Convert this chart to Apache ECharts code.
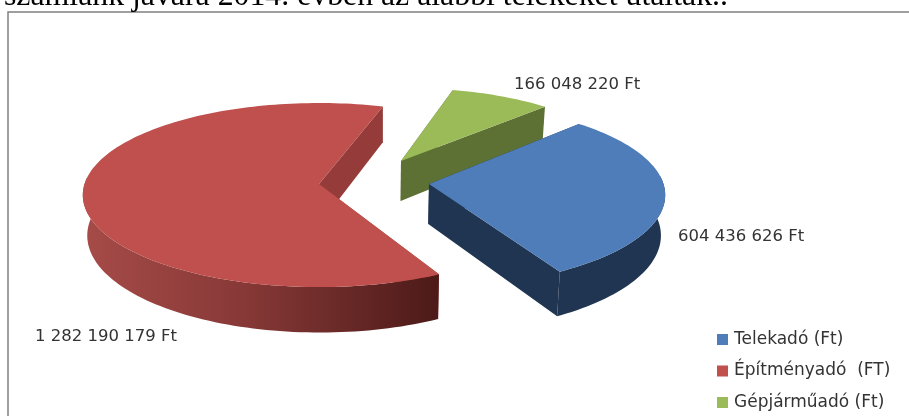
<!DOCTYPE html>
<html>
<head>
<meta charset="utf-8">
<style>
html, body { margin: 0; padding: 0; background: #fff; overflow: hidden; }
#main { width: 909px; height: 416px; }
</style>
<script src="https://cdn.jsdelivr.net/npm/echarts@6/dist/echarts.min.js"></script>
</head>
<body>
<div id="main"></div>
<script>
// adók, Ft
var categories = ['Telekadó (Ft)', 'Építményadó  (FT)', 'Gépjárműadó (Ft)'];
var values = [604436626, 1282190179, 166048220];
var colors = ['#4f7dba', '#bf504d', '#9bbb59'];
var sideColors = ['#1f3552', '#953c3a', '#5e7134'];

var total = values.reduce(function (a, b) { return a + b; }, 0);

// a "3D" kör vetítése
var rx = 234.5, ry = 90.7, persp = 0.12, depth = 40, shrink = 0.985, vanishX = 380;
var startAngle = 44;
// szeletenkénti eltolás (explode)
var slices = [
  { cx: 429, cy: 184, rot: 0, sx: 1, sy: 1, lx: 678, ly: 237 },
  { cx: 319, cy: 184, rot: 2.8, sx: 1, sy: 1, lx: 35, ly: 337 },
  { cx: 401, cy: 161, rot: 0, sx: 0.96, sy: 0.905, lx: 514, ly: 85 }
];

function startOf(idx) {
  var sum = 0;
  for (var i = 0; i < idx; i++) sum += values[i];
  return startAngle + sum / total * 360;
}

function top3d(s, deg) {
  var a = deg * Math.PI / 180;
  var u = Math.sin(a), v = -Math.cos(a);
  var f = 1 / (1 - persp * v);
  return [s.cx + rx * s.sx * u * f, s.cy + ry * s.sy * v * f, f, v];
}

function bottom3d(p, f) {
  return [vanishX + (p[0] - vanishX) * shrink, p[1] + depth * f];
}

function fmt(n) {
  return String(n).replace(/\B(?=(\d{3})+$)/g, ' ') + ' Ft';
}

function xy(p) {
  return [p[0], p[1]];
}

function pieceItem(idx) {
  return function (params, api) {
    var s = slices[idx];
    var val = api.value(0);
    var a0 = startOf(idx) + s.rot;
    var a1 = a0 + val / total * 360;
    var arc = [];
    for (var d = a0; d < a1; d += 1.5) arc.push(top3d(s, d));
    arc.push(top3d(s, a1));

    // csak az elülső oldalfal látszik
    var front = arc.filter(function (p) { return p[3] > -0.1; });
    var frontBottom = front.map(function (p) { return bottom3d(p, p[2]); }).reverse();

    var center = [s.cx, s.cy];
    var centerBottom = bottom3d(center, 1);
    var first = arc[0], last = arc[arc.length - 1];

    var side = sideColors[idx];
    var outer = side;
    if (idx === 1) {
      outer = new echarts.graphic.LinearGradient(0, 0, 1, 0, [
        { offset: 0, color: '#a64b48' },
        { offset: 0.45, color: '#873937' },
        { offset: 1, color: '#4c1a18' }
      ]);
    }

    return {
      type: 'group',
      children: [
        { type: 'polygon', shape: { points: [center, xy(first), bottom3d(first, first[2]), centerBottom] }, style: { fill: side } },
        { type: 'polygon', shape: { points: [center, xy(last), bottom3d(last, last[2]), centerBottom] }, style: { fill: side } },
        { type: 'polygon', shape: { points: front.map(xy).concat(frontBottom) }, style: { fill: outer } },
        { type: 'polygon', shape: { points: [center].concat(arc.map(xy)) }, style: { fill: colors[idx] } },
        { type: 'text', style: { text: fmt(val), x: s.lx, y: s.ly, verticalAlign: 'middle', fill: '#333', fontSize: 16.5, fontFamily: 'DejaVu Sans' } }
      ]
    };
  };
}

var chart = echarts.init(document.getElementById('main'), null, { renderer: 'canvas' });
chart.setOption({
  animation: false,
  backgroundColor: '#fff',
  legend: {
    orient: 'vertical',
    left: 717,
    top: 331,
    padding: 0,
    itemWidth: 11,
    itemHeight: 11,
    itemGap: 14.5,
    icon: 'rect',
    selectedMode: false,
    textStyle: { fontSize: 17, color: '#333', fontFamily: 'DejaVu Sans', padding: [0, 0, 0, 1] },
    data: categories
  },
  graphic: [
    { type: 'rect', shape: { x: 8, y: 12, width: 1000, height: 500 }, style: { fill: 'none', stroke: '#808080', lineWidth: 1.5 }, z: 0 },
    { type: 'text', style: { text: 'számlánk javára 2014. évben az alábbi telekeket utalták..', x: 4, y: 13, verticalAlign: 'bottom', fill: '#000', fontSize: 31.8, fontFamily: 'Liberation Serif' }, z: 1 }
  ],
  series: categories.map(function (name, i) {
    return {
      type: 'custom',
      name: name,
      coordinateSystem: 'none',
      silent: true,
      z: [3, 2, 1][i],
      itemStyle: { color: colors[i] },
      data: [[values[i]]],
      renderItem: pieceItem(i)
    };
  })
});
</script>
</body>
</html>
